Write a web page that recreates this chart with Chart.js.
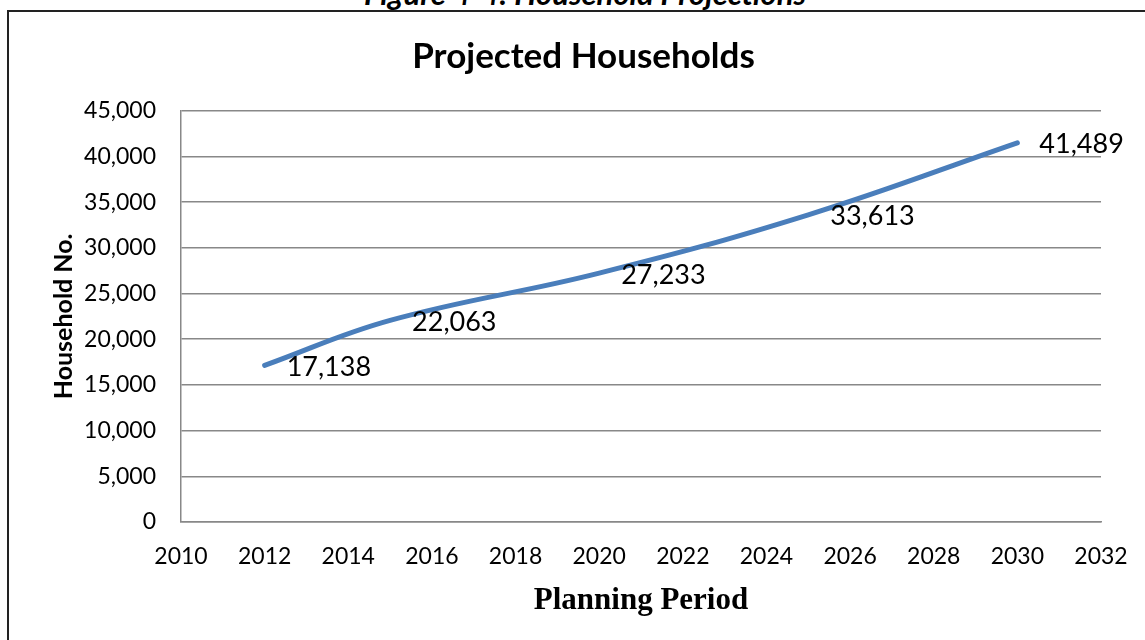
<!DOCTYPE html>
<html>
<head>
<meta charset="utf-8">
<script src="https://cdn.jsdelivr.net/npm/chart.js@4.4.1/dist/chart.umd.min.js"></script>
<style>
html,body{margin:0;padding:0;background:#fff;overflow:hidden;width:1145px;height:640px;}
#caption{position:absolute;left:0;width:1170px;top:-24.6px;text-align:center;font:italic bold 31px Lato;line-height:1.2;color:#000;white-space:nowrap;}
#box{position:absolute;left:7px;top:10px;width:1149px;height:640px;border-left:2px solid #222;border-top:2px solid #222;}
canvas{display:block;}
</style>
</head>
<body>
<div id="caption">Figure 4-4: Household Projections</div>
<div id="box"><canvas id="c" width="1149" height="640" style="width:1149px;height:640px"></canvas></div>
<script>
// ---- data ----
const years = [2012, 2015, 2020, 2025, 2030];
const households = [17138, 22063, 27233, 33613, 41489];
const xTickRange = [2010, 2032, 2];      // min, max, step
const yTickRange = [0, 45000, 5000];     // min, max, step
const chartTitle = 'Projected Households';
const xTitle = 'Planning Period';
const yTitle = 'Household No.';

const fmt = v => Number(v).toLocaleString('en-US');

const labelPlugin = {
  id: 'valueLabels',
  afterDatasetsDraw(chart) {
    const ctx = chart.ctx;
    const meta = chart.getDatasetMeta(0);
    ctx.save();
    ctx.font = '27px Lato';
    ctx.fillStyle = '#000';
    ctx.textAlign = 'left';
    ctx.textBaseline = 'middle';
    meta.data.forEach((pt, i) => {
      ctx.fillText(fmt(households[i]), pt.x + 22, pt.y + 2);
    });
    ctx.restore();
  }
};

new Chart(document.getElementById('c'), {
  type: 'line',
  data: {
    datasets: [{
      data: years.map((x, i) => ({x: x, y: households[i]})),
      borderColor: '#4A7EBB',
      borderWidth: 5,
      pointRadius: 0,
      pointHoverRadius: 0,
      tension: 0.4,
      fill: false,
      borderCapStyle: 'round',
      borderJoinStyle: 'round'
    }]
  },
  options: {
    responsive: false,
    animation: false,
    events: [],
    layout: {padding: {left: 57, top: 0, right: 57, bottom: 0}},
    plugins: {
      legend: {display: false},
      tooltip: {enabled: false},
      title: {
        display: true,
        text: chartTitle,
        color: '#000',
        font: {family: 'Lato', size: 35, weight: 'bold'},
        padding: {top: 24, bottom: 32.7}
      }
    },
    scales: {
      x: {
        type: 'linear',
        min: xTickRange[0], max: xTickRange[1],
        ticks: {stepSize: xTickRange[2], callback: v => String(v), color: '#000',
                font: {family: 'Lato', size: 23}, padding: 21, maxRotation: 0, autoSkip: false},
        grid: {display: false, drawTicks: false},
        border: {display: true, color: '#888', width: 1.5},
        title: {display: true, text: xTitle, color: '#000',
                font: {family: 'Liberation Serif', size: 31, weight: 'bold'},
                padding: {top: 0, bottom: 32.4}},
        afterFit: s => { s.height = 130; }
      },
      y: {
        min: yTickRange[0], max: yTickRange[1],
        ticks: {stepSize: yTickRange[2], callback: v => fmt(v), color: '#000',
                font: {family: 'Lato', size: 23}, padding: 25},
        grid: {color: '#888', lineWidth: 1.5, drawTicks: false},
        border: {display: true, color: '#888', width: 1.5},
        title: {display: true, text: yTitle, color: '#000',
                font: {family: 'Lato', size: 25, weight: 'bold'},
                padding: {top: -17, bottom: 0}},
        afterFit: s => { s.width = 115; }
      }
    }
  },
  plugins: [labelPlugin]
});
</script>
</body>
</html>
